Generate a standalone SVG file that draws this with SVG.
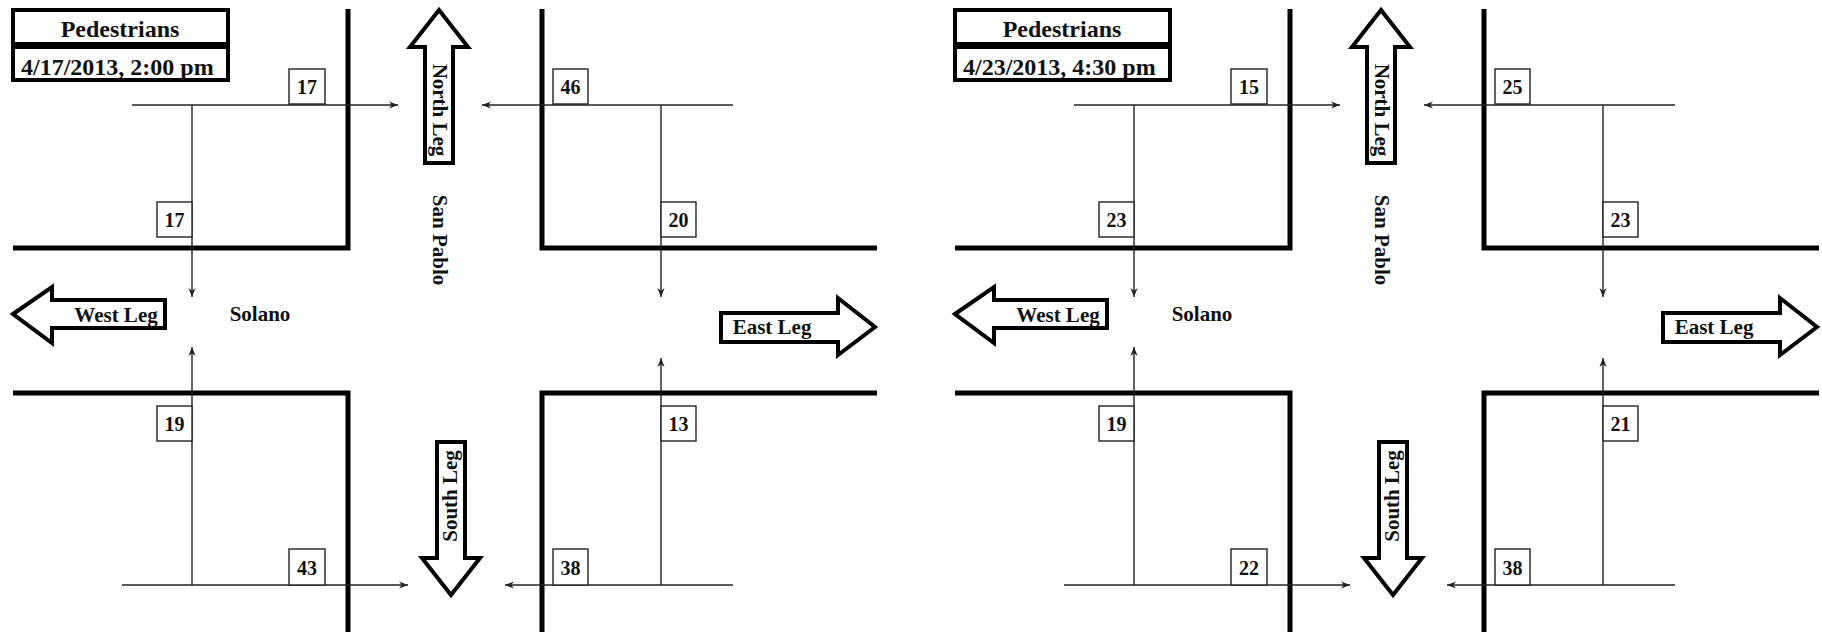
<svg xmlns="http://www.w3.org/2000/svg" width="1822" height="634" viewBox="0 0 1822 634">
<style>
.bg{fill:#fff}
.curb{fill:none;stroke:#000;stroke-width:5;stroke-linejoin:miter;stroke-linecap:butt}
.ped{fill:none;stroke:#222;stroke-width:1.4}
.box{fill:#fff;stroke:#222;stroke-width:1.4}
.leg{fill:#fff;stroke:#000;stroke-width:4;stroke-linejoin:miter}
.t{font-family:"Liberation Serif","Times New Roman",serif;font-weight:bold;fill:#111}
.num{font-size:20px;text-anchor:middle}
.lbl{font-size:21px;text-anchor:middle}
.title{font-size:24px}
</style>
<defs>
<marker id="ah" viewBox="0 0 10 10" refX="10" refY="5" markerWidth="9" markerHeight="9" markerUnits="userSpaceOnUse" orient="auto">
<path d="M0,1 L10,5 L0,9 L3,5 Z" fill="#222"/>
</marker>
</defs>
<rect class="bg" x="0" y="0" width="1822" height="634"/>

<g id="panel-1">
  <g id="title-1">
    <rect x="13" y="10" width="215" height="70" fill="#fff" stroke="#000" stroke-width="4"/>
    <rect x="13" y="42" width="215" height="7" fill="#000"/>
    <text class="t title" x="120" y="37" text-anchor="middle">Pedestrians</text>
    <text class="t title" x="21" y="75">4/17/2013, 2:00 pm</text>
  </g>
  <g id="curbs-1">
    <path class="curb" d="M348,9 L348,248 L13,248"/>
    <path class="curb" d="M542,9 L542,248 L877,248"/>
    <path class="curb" d="M13,393 L348,393 L348,632"/>
    <path class="curb" d="M877,393 L542,393 L542,632"/>
  </g>
  <g id="connectors-1">
    <line class="ped" x1="132" y1="105" x2="398" y2="105" marker-end="url(#ah)"/>
    <line class="ped" x1="192" y1="105" x2="192" y2="297" marker-end="url(#ah)"/>
    <line class="ped" x1="733" y1="105" x2="482" y2="105" marker-end="url(#ah)"/>
    <line class="ped" x1="661" y1="105" x2="661" y2="297" marker-end="url(#ah)"/>
    <line class="ped" x1="192" y1="585" x2="192" y2="347" marker-end="url(#ah)"/>
    <line class="ped" x1="122" y1="585" x2="408" y2="585" marker-end="url(#ah)"/>
    <line class="ped" x1="661" y1="585" x2="661" y2="358" marker-end="url(#ah)"/>
    <line class="ped" x1="733" y1="585" x2="505" y2="585" marker-end="url(#ah)"/>
  </g>
  <g id="count-n-1"><rect class="box" x="289" y="69" width="36" height="35"/><text class="t num" x="307" y="94">17</text></g>
  <g id="count-w-top-1"><rect class="box" x="157" y="202" width="35" height="35"/><text class="t num" x="174.5" y="227">17</text></g>
  <g id="count-n2-1"><rect class="box" x="553" y="69" width="35" height="35"/><text class="t num" x="570.5" y="94">46</text></g>
  <g id="count-e-top-1"><rect class="box" x="661" y="202" width="35" height="35"/><text class="t num" x="678.5" y="227">20</text></g>
  <g id="count-w-bot-1"><rect class="box" x="157" y="406" width="35" height="35"/><text class="t num" x="174.5" y="431">19</text></g>
  <g id="count-s-1"><rect class="box" x="289" y="549" width="36" height="36"/><text class="t num" x="307" y="575">43</text></g>
  <g id="count-e-bot-1"><rect class="box" x="661" y="406" width="35" height="35"/><text class="t num" x="678.5" y="431">13</text></g>
  <g id="count-s2-1"><rect class="box" x="553" y="549" width="35" height="36"/><text class="t num" x="570.5" y="575">38</text></g>
  <g id="north-leg-1">
    <polygon class="leg" points="439,10 468,47 453,47 453,163 425,163 425,47 410,47"/>
    <text class="t lbl" transform="translate(433,110) rotate(90)">North Leg</text>
  </g>
  <g id="south-leg-1">
    <polygon class="leg" points="437,442 465,442 465,558 480,558 451,595 422,558 437,558"/>
    <text class="t lbl" transform="translate(457,496) rotate(-90)">South Leg</text>
  </g>
  <g id="west-leg-1">
    <polygon class="leg" points="13,314 52,287 52,300 165,300 165,328 52,328 52,343"/>
    <text class="t lbl" x="116" y="322">West Leg</text>
  </g>
  <g id="east-leg-1">
    <polygon class="leg" points="721,313 838,313 838,298 875,327 838,355 838,342 721,342"/>
    <text class="t lbl" x="772" y="334">East Leg</text>
  </g>
  <g id="street-names-1">
    <text class="t lbl" x="260" y="321">Solano</text>
    <text class="t lbl" transform="translate(433,240) rotate(90)">San Pablo</text>
  </g>
</g>

<g id="panel-2" transform="translate(942,0)">
  <g id="title-2">
    <rect x="13" y="10" width="215" height="70" fill="#fff" stroke="#000" stroke-width="4"/>
    <rect x="13" y="42" width="215" height="7" fill="#000"/>
    <text class="t title" x="120" y="37" text-anchor="middle">Pedestrians</text>
    <text class="t title" x="21" y="75">4/23/2013, 4:30 pm</text>
  </g>
  <g id="curbs-2">
    <path class="curb" d="M348,9 L348,248 L13,248"/>
    <path class="curb" d="M542,9 L542,248 L877,248"/>
    <path class="curb" d="M13,393 L348,393 L348,632"/>
    <path class="curb" d="M877,393 L542,393 L542,632"/>
  </g>
  <g id="connectors-2">
    <line class="ped" x1="132" y1="105" x2="398" y2="105" marker-end="url(#ah)"/>
    <line class="ped" x1="192" y1="105" x2="192" y2="297" marker-end="url(#ah)"/>
    <line class="ped" x1="733" y1="105" x2="482" y2="105" marker-end="url(#ah)"/>
    <line class="ped" x1="661" y1="105" x2="661" y2="297" marker-end="url(#ah)"/>
    <line class="ped" x1="192" y1="585" x2="192" y2="347" marker-end="url(#ah)"/>
    <line class="ped" x1="122" y1="585" x2="408" y2="585" marker-end="url(#ah)"/>
    <line class="ped" x1="661" y1="585" x2="661" y2="358" marker-end="url(#ah)"/>
    <line class="ped" x1="733" y1="585" x2="505" y2="585" marker-end="url(#ah)"/>
  </g>
  <g id="count-n-2"><rect class="box" x="289" y="69" width="36" height="35"/><text class="t num" x="307" y="94">15</text></g>
  <g id="count-w-top-2"><rect class="box" x="157" y="202" width="35" height="35"/><text class="t num" x="174.5" y="227">23</text></g>
  <g id="count-n2-2"><rect class="box" x="553" y="69" width="35" height="35"/><text class="t num" x="570.5" y="94">25</text></g>
  <g id="count-e-top-2"><rect class="box" x="661" y="202" width="35" height="35"/><text class="t num" x="678.5" y="227">23</text></g>
  <g id="count-w-bot-2"><rect class="box" x="157" y="406" width="35" height="35"/><text class="t num" x="174.5" y="431">19</text></g>
  <g id="count-s-2"><rect class="box" x="289" y="549" width="36" height="36"/><text class="t num" x="307" y="575">22</text></g>
  <g id="count-e-bot-2"><rect class="box" x="661" y="406" width="35" height="35"/><text class="t num" x="678.5" y="431">21</text></g>
  <g id="count-s2-2"><rect class="box" x="553" y="549" width="35" height="36"/><text class="t num" x="570.5" y="575">38</text></g>
  <g id="north-leg-2">
    <polygon class="leg" points="439,10 468,47 453,47 453,163 425,163 425,47 410,47"/>
    <text class="t lbl" transform="translate(433,110) rotate(90)">North Leg</text>
  </g>
  <g id="south-leg-2">
    <polygon class="leg" points="437,442 465,442 465,558 480,558 451,595 422,558 437,558"/>
    <text class="t lbl" transform="translate(457,496) rotate(-90)">South Leg</text>
  </g>
  <g id="west-leg-2">
    <polygon class="leg" points="13,314 52,287 52,300 165,300 165,328 52,328 52,343"/>
    <text class="t lbl" x="116" y="322">West Leg</text>
  </g>
  <g id="east-leg-2">
    <polygon class="leg" points="721,313 838,313 838,298 875,327 838,355 838,342 721,342"/>
    <text class="t lbl" x="772" y="334">East Leg</text>
  </g>
  <g id="street-names-2">
    <text class="t lbl" x="260" y="321">Solano</text>
    <text class="t lbl" transform="translate(433,240) rotate(90)">San Pablo</text>
  </g>
</g>
</svg>
